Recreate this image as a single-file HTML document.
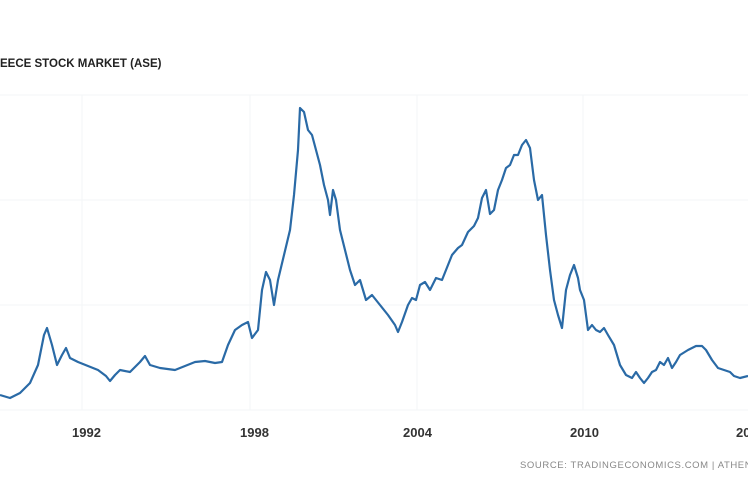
<!DOCTYPE html>
<html><head><style>
body{margin:0;width:748px;height:498px;background:#fff;overflow:hidden;position:relative;font-family:"Liberation Sans",sans-serif}
.t{position:absolute;left:0;top:58px;font-size:11.5px;font-weight:bold;color:#222;letter-spacing:0px}
.x{position:absolute;top:425px;font-size:13px;font-weight:bold;color:#333}
.s{position:absolute;left:520px;top:460px;font-size:9.5px;color:#888;letter-spacing:0.6px;white-space:nowrap;width:228px;overflow:hidden}
</style></head><body>
<div class="t">EECE STOCK MARKET (ASE)</div>
<svg width="748" height="498" style="position:absolute;left:0;top:0">
<g stroke="#f3f5f7" stroke-width="1">
<line x1="0" y1="95" x2="748" y2="95"/><line x1="0" y1="200" x2="748" y2="200"/><line x1="0" y1="305" x2="748" y2="305"/><line x1="0" y1="410" x2="748" y2="410"/>
<line x1="82" y1="95" x2="82" y2="410"/><line x1="250" y1="95" x2="250" y2="410"/><line x1="417" y1="95" x2="417" y2="410"/><line x1="583" y1="95" x2="583" y2="410"/>
</g>
<polyline fill="none" stroke="#2a6aa6" stroke-width="2.2" stroke-linejoin="round" points="0,395 10,398 20,393 30,383 38,365 44,335 47,328 52,345 57,365 62,355 66,348 70,358 78,362 88,366 98,370 106,376 110,381 115,375 120,370 130,372 140,362 145,356 150,365 160,368 175,370 185,366 195,362 205,361 215,363 222,362 228,345 235,330 242,325 248,322 252,338 258,330 262,290 266,272 270,280 274,305 278,280 284,255 290,230 294,195 298,150 300,108 304,112 308,130 312,135 316,150 320,165 324,185 328,200 330,215 333,190 336,200 340,230 345,250 350,270 355,285 360,280 366,300 372,295 380,305 388,315 395,325 398,332 402,322 408,305 412,298 416,300 420,285 425,282 430,290 436,278 442,280 448,265 452,255 458,248 462,245 468,232 474,226 478,218 482,198 486,190 490,214 494,210 498,190 502,180 506,168 510,165 514,155 518,155 522,145 526,140 530,148 534,180 538,200 542,195 546,235 550,270 554,300 558,315 562,328 566,290 570,275 574,265 578,278 580,290 584,300 588,330 592,325 596,330 600,332 604,328 608,335 614,345 620,365 626,375 632,378 636,372 640,378 644,383 648,378 652,372 656,370 660,362 664,365 668,358 672,368 676,362 680,355 688,350 696,346 702,346 706,350 712,360 718,368 724,370 730,372 734,376 740,378 748,376"/>
</svg>
<div class="x" style="left:72px">1992</div>
<div class="x" style="left:240px">1998</div>
<div class="x" style="left:403px">2004</div>
<div class="x" style="left:570px">2010</div>
<div class="x" style="left:736px;width:12px;overflow:hidden">20</div>
<div class="s">SOURCE: TRADINGECONOMICS.COM | ATHENS ST</div>
</body></html>
